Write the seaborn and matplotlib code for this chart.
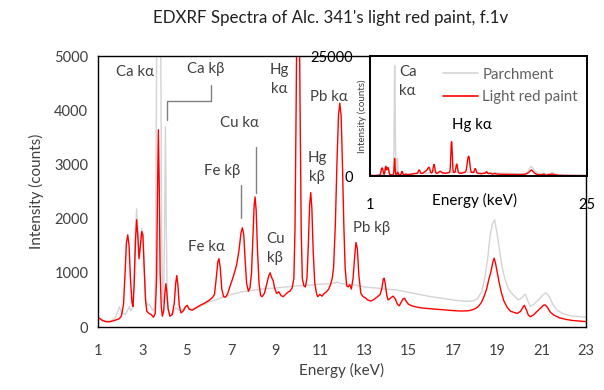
import numpy as np
import pandas as pd
import seaborn as sns
import matplotlib.pyplot as plt
from matplotlib.lines import Line2D

# ---- spectra (energy in keV, intensity in counts) ----
paint_energy = [
    1.00, 1.10, 1.20, 1.35, 1.50, 1.65, 1.80, 1.95, 2.05, 2.15, 2.22, 2.28, 2.34, 2.40, 2.46,
    2.53, 2.58, 2.63, 2.69, 2.74, 2.79, 2.85, 2.91, 2.97, 3.02, 3.08, 3.14, 3.20, 3.30, 3.40,
    3.50, 3.58, 3.64, 3.68, 3.72, 3.76, 3.80, 3.85, 3.90, 3.96, 4.02, 4.06, 4.10, 4.16, 4.24,
    4.35, 4.44, 4.50, 4.55, 4.60, 4.66, 4.74, 4.85, 4.95, 5.02, 5.10, 5.25, 5.40, 5.60, 5.80,
    6.00, 6.15, 6.25, 6.33, 6.40, 6.45, 6.51, 6.58, 6.66, 6.75, 6.85, 6.95, 7.05, 7.15, 7.25,
    7.35, 7.45, 7.51, 7.57, 7.63, 7.70, 7.78, 7.85, 7.92, 7.98, 8.04, 8.08, 8.13, 8.19, 8.26,
    8.33, 8.40, 8.50, 8.60, 8.70, 8.76, 8.82, 8.90, 8.96, 9.05, 9.15, 9.25, 9.35, 9.45, 9.55,
    9.65, 9.75, 9.83, 9.88, 9.93, 9.98, 10.02, 10.06, 10.11, 10.16, 10.21, 10.28, 10.35, 10.42,
    10.48, 10.54, 10.59, 10.64, 10.70, 10.77, 10.85, 10.90, 11.00, 11.10, 11.20, 11.30, 11.40,
    11.48, 11.56, 11.62, 11.70, 11.77, 11.84, 11.90, 11.96, 12.02, 12.08, 12.14, 12.21, 12.28,
    12.35, 12.42, 12.50, 12.57, 12.63, 12.69, 12.76, 12.85, 12.95, 13.05, 13.15, 13.30, 13.45,
    13.60, 13.72, 13.80, 13.86, 13.90, 13.95, 14.02, 14.08, 14.18, 14.30, 14.40, 14.50, 14.58,
    14.66, 14.75, 14.82, 14.90, 15.00, 15.15, 15.30, 15.60, 15.90, 16.20, 16.50, 16.80, 17.10,
    17.40, 17.70, 17.90, 18.05, 18.15, 18.28, 18.40, 18.52, 18.62, 18.72, 18.80, 18.86, 18.92,
    19.00, 19.08, 19.18, 19.30, 19.45, 19.60, 19.75, 19.90, 20.05, 20.15, 20.22, 20.30, 20.40,
    20.50, 20.65, 20.80, 20.95, 21.08, 21.15, 21.25, 21.40, 21.55, 21.80, 22.10, 22.40, 22.70,
    23.00, 23.50, 24.00, 24.50, 25.00,
]
paint_counts = [
    170, 150, 120, 100, 95, 110, 130, 150, 200, 420, 1000, 1550, 1700, 1500, 900,
    450, 380, 800, 1600, 1980, 1700, 1260, 1500, 1760, 1700, 1100, 500, 290, 250, 230,
    180, 250, 900, 2400, 3640, 2600, 1000, 380, 200, 300, 650, 800, 650, 330, 200,
    230, 450, 800, 950, 780, 400, 260, 300, 380, 400, 330, 310, 350, 400, 440,
    490, 540, 600, 900, 1200, 1260, 1100, 700, 560, 550, 620, 750, 870, 1000, 1150,
    1400, 1750, 1830, 1700, 1250, 800, 660, 720, 1000, 1600, 2250, 2400, 2150, 1400, 800,
    580, 560, 620, 780, 950, 1000, 920, 850, 720, 620, 650, 580, 560, 600, 640,
    660, 720, 900, 1800, 4000, 6500, 7150, 6500, 4000, 1800, 900, 760, 740, 900,
    1500, 2250, 2480, 2200, 1400, 820, 620, 560, 600, 570, 620, 650, 700,
    780, 900, 1100, 1900, 3000, 3900, 4130, 3900, 3000, 1900, 1100, 760, 740,
    780, 700, 900, 1300, 1560, 1450, 950, 620, 560, 540, 500, 480, 510,
    560, 600, 720, 880, 900, 800, 580, 500, 530, 570, 520, 420, 390,
    450, 520, 530, 470, 420, 390, 375, 350, 340, 330, 320, 310, 300,
    295, 300, 320, 350, 380, 450, 560, 700, 880, 1030, 1200, 1270, 1180,
    1000, 830, 640, 480, 360, 290, 270, 250, 290, 360, 400, 330, 220,
    190, 230, 290, 350, 400, 410, 370, 270, 220, 170, 140, 120, 110,
    100, 95, 90, 85, 80,
]

parchment_energy = [
    1.00, 1.20, 1.40, 1.60, 1.80, 1.90, 1.96, 2.05, 2.15, 2.23, 2.32, 2.41, 2.47, 2.55, 2.62,
    2.68, 2.74, 2.80, 2.86, 2.92, 2.98, 3.04, 3.10, 3.17, 3.25, 3.32, 3.40, 3.50, 3.56, 3.60,
    3.64, 3.68, 3.73, 3.78, 3.83, 3.87, 3.91, 3.95, 4.00, 4.04, 4.08, 4.12, 4.20, 4.35, 4.50,
    4.70, 5.00, 5.20, 5.50, 6.00, 6.50, 7.00, 7.50, 8.00, 8.40, 9.00, 9.50, 10.00, 10.50,
    11.00, 11.50, 11.80, 12.00, 12.50, 13.00, 13.50, 14.00, 14.50, 15.00, 15.50, 16.00, 16.50,
    17.00, 17.50, 17.90, 18.10, 18.30, 18.45, 18.58, 18.67, 18.78, 18.88, 18.98, 19.10, 19.22,
    19.35, 19.50, 19.72, 19.95, 20.12, 20.22, 20.28, 20.36, 20.48, 20.65, 20.85, 21.05, 21.20,
    21.35, 21.50, 21.70, 22.00, 22.40, 23.00, 23.50, 24.00, 25.00,
]
parchment_counts = [
    180, 130, 110, 120, 180, 300, 370, 280, 240, 230, 300, 380, 300, 350, 800,
    1700, 2180, 1750, 1300, 1550, 1820, 1650, 900, 450, 400, 420, 350, 300, 400, 1500,
    5000, 14000, 23000, 14000, 5000, 1500, 500, 450, 1800, 3700, 1800, 500, 260, 250, 350,
    300, 380, 330, 360, 460, 530, 600, 650, 680, 700, 720, 740, 760, 770,
    790, 800, 830, 800, 780, 740, 720, 700, 680, 640, 600, 560, 530,
    500, 475, 480, 520, 650, 930, 1300, 1670, 1900, 1980, 1750, 1420, 1100,
    880, 700, 590, 500, 540, 600, 600, 500, 380, 420, 500, 590, 630,
    560, 420, 310, 240, 200, 180, 170, 160, 150,
]

series_names = ["Parchment", "Light red paint"]
series_colors = {"Parchment": "#d4d4d4", "Light red paint": "#ff0000"}

# tick positions for both panels
main_xticks = list(range(1, 24, 2))
main_yticks = [0, 1000, 2000, 3000, 4000, 5000]
inset_xticks = [1, 25]
inset_yticks = [0, 25000]

df = pd.concat([
    pd.DataFrame({"energy": parchment_energy, "counts": parchment_counts, "sample": "Parchment"}),
    pd.DataFrame({"energy": paint_energy, "counts": paint_counts, "sample": "Light red paint"}),
], ignore_index=True)

sns.set_theme(style="white")
plt.rcParams["font.family"] = ["Lato", "DejaVu Sans"]
text_color = "#404040"
line_color = "#808080"

fig = plt.figure(figsize=(6.04, 3.90), dpi=100)
ax = fig.add_axes([0.1623, 0.1615, 0.8079, 0.6949])

sns.lineplot(data=df, x="energy", y="counts", hue="sample", hue_order=series_names,
             palette=series_colors, estimator=None, sort=False, linewidth=1.0,
             legend=False, ax=ax)
ax.set_xlim(1, 23)
ax.set_ylim(0, 5000)
ax.set_xticks(main_xticks)
ax.set_xticklabels([str(t) for t in main_xticks])
ax.set_yticks(main_yticks)
ax.set_yticklabels([str(t) for t in main_yticks])
ax.tick_params(axis="x", direction="in", length=5, width=1, color="black",
               labelsize=10.5, labelcolor=text_color, pad=12)
ax.tick_params(axis="y", direction="out", length=3, width=1, color="black",
               labelsize=10.5, labelcolor=text_color, pad=4)
for sp in ax.spines.values():
    sp.set_color("black")
    sp.set_linewidth(1.0)
ax.set_xlabel("Energy (keV)", fontsize=11, color=text_color, labelpad=4)
ax.set_ylabel("Intensity (counts)", fontsize=11, color=text_color, labelpad=7)
fig.suptitle("EDXRF Spectra of Alc. 341's light red paint, f.1v", x=0.547, y=0.975,
             fontsize=12.2, color="#202020")

# peak labels
fs = 10.8
def label(x, y, s, **kw):
    ax.text(x, y, s, ha="center", va="center", fontsize=fs, color=text_color,
            linespacing=1.45, **kw)

label(2.67, 4700, "Ca kα")
label(5.87, 4760, "Ca kβ")
label(7.36, 3760, "Cu kα")
label(6.61, 2880, "Fe kβ")
label(5.91, 1480, "Fe kα")
label(9.00, 1440, "Cu\nkβ")
label(9.16, 4575, "Hg\nkα")
label(10.87, 2950, "Hg\nkβ")
label(11.41, 4240, "Pb kα")
label(13.33, 1830, "Pb kβ")

# leader lines
ax.plot([4.12, 4.12, 6.08, 6.08], [3820, 4170, 4170, 4465], color=line_color, lw=1)
ax.plot([8.12, 8.12], [2470, 3320], color=line_color, lw=1)
ax.plot([7.45, 7.45], [2010, 2620], color=line_color, lw=1)

# ---- inset: full range ----
axin = fig.add_axes([0.6126, 0.5487, 0.3593, 0.3077])
axin.set_facecolor("white")
sns.lineplot(data=df, x="energy", y="counts", hue="sample", hue_order=series_names,
             palette=series_colors, estimator=None, sort=False, linewidth=1.0,
             legend=False, ax=axin)
axin.set_xlim(1, 25)
axin.set_ylim(0, 25000)
axin.set_xticks(inset_xticks)
axin.set_xticklabels([str(t) for t in inset_xticks])
axin.set_yticks(inset_yticks)
axin.set_yticklabels([str(t) for t in inset_yticks])
axin.tick_params(axis="both", length=0, labelsize=10.5, labelcolor="black")
axin.tick_params(axis="x", pad=16)
axin.tick_params(axis="y", pad=12)
for sp in axin.spines.values():
    sp.set_color("black")
    sp.set_linewidth(1.4)
axin.set_xlabel("Energy (keV)", fontsize=11, color="black")
axin.xaxis.set_label_coords(0.484, -0.2)
axin.xaxis.label.set_va("center")
axin.set_ylabel("Intensity (counts)", fontsize=7, color=text_color)
axin.yaxis.set_label_coords(-0.037, 0.5)
axin.yaxis.label.set_va("center")

axin.text(4.2, 19600, "Ca\nkα", ha="left", va="center", fontsize=fs, color=text_color,
          linespacing=1.45)
axin.text(12.3, 10600, "Hg kα", ha="center", va="center", fontsize=fs, color="black")

handles = [Line2D([], [], color=series_colors[n], lw=1.2) for n in series_names]
axin.legend(handles, series_names, loc="upper left", bbox_to_anchor=(0.29, 0.99),
            frameon=False, fontsize=10.8, handlelength=2.3, handletextpad=0.3,
            labelspacing=0.55, borderpad=0.2, labelcolor="#606060")

fig.savefig("out.png", dpi=100)
